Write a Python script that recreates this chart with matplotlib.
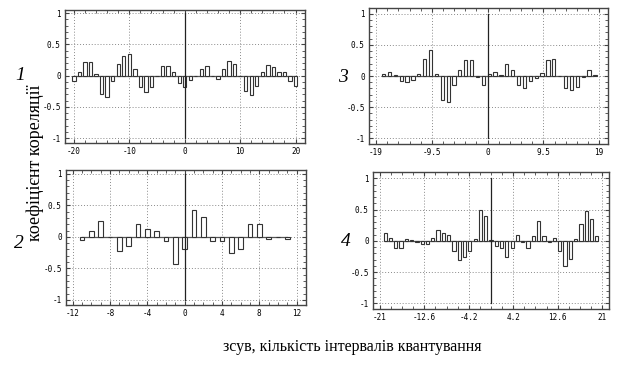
import matplotlib
matplotlib.use('Agg')
import matplotlib.pyplot as plt
import numpy as np
from matplotlib.ticker import AutoMinorLocator, FixedLocator

plt.rcParams['axes.unicode_minus'] = False

# lags and correlation coefficients for each panel
lags1 = list(range(-20, 21))
corr1 = [-0.08, 0.05, 0.22, 0.22, 0.02, -0.29, -0.35, -0.09, 0.18, 0.32,
         0.35, 0.10, -0.19, -0.27, -0.19, -0.01, 0.16, 0.16, 0.05, -0.12,
         -0.19, -0.07, 0.0, 0.10, 0.15, 0.0, -0.06, 0.11, 0.24, 0.19,
         0.0, -0.24, -0.31, -0.17, 0.05, 0.17, 0.13, 0.05, 0.05, -0.08, -0.16]
ticks1 = [-20, -10, 0, 10, 20]
labels1 = ['-20', '-10', '0', '10', '20']

lags2 = list(range(-11, 12))
corr2 = [-0.05, 0.10, 0.25, 0.005, -0.23, -0.14, 0.21, 0.12, 0.09, -0.07,
         -0.43, -0.20, 0.42, 0.31, -0.07, -0.07, -0.25, -0.20, 0.21, 0.21,
         -0.04, 0.0, -0.04]
ticks2 = [-12, -8, -4, 0, 4, 8, 12]
labels2 = ['-12', '-8', '-4', '0', '4', '8', '12']

lags3 = list(range(-18, 19))
corr3 = [0.035, 0.07, 0.02, -0.08, -0.09, -0.06, 0.04, 0.28, 0.41, 0.03,
         -0.39, -0.42, -0.15, 0.09, 0.25, 0.25, -0.01, -0.15, 0.04, 0.07,
         0.02, 0.19, 0.10, -0.15, -0.20, -0.08, -0.03, 0.05, 0.25, 0.27,
         0.0, -0.20, -0.22, -0.17, -0.01, 0.09, 0.02]
ticks3 = [-19, -9.5, 0, 9.5, 19]
labels3 = ['-19', '-9.5', '0', '9.5', '19']

lags4 = list(range(-20, 21))
corr4 = [0.13, 0.04, -0.11, -0.12, 0.03, 0.02, -0.02, -0.05, -0.05, 0.04,
         0.17, 0.13, 0.10, -0.16, -0.31, -0.26, -0.17, 0.03, 0.50, 0.40,
         0.02, -0.09, -0.12, -0.26, -0.12, 0.10, -0.02, -0.11, 0.07, 0.31,
         0.07, -0.02, 0.05, -0.17, -0.41, -0.29, 0.03, 0.27, 0.47, 0.35, 0.07]
ticks4 = [-21, -12.6, -4.2, 4.2, 12.6, 21]
labels4 = ['-21', '-12.6', '-4.2', '4.2', '12.6', '21']

yticks = [-1, -0.5, 0, 0.5, 1]
ylabels = ['-1', '-0.5', '0', '0.5', '1']

W, H = 631, 368
fig = plt.figure(figsize=(W / 100, H / 100), dpi=100)


def px_axes(left, right, top, bottom):
    return fig.add_axes([left / W, 1 - bottom / H, (right - left) / W, (bottom - top) / H])


panels = [
    # lags, corr, ticks, labels, box(px), xlim, ylim, width, align, nminor, name, name pos
    (lags1, corr1, ticks1, labels1, (65, 305, 10, 143), (-21.6, 21.7), (-1.08, 1.05), 0.6, 'center', 5, '1', (20, 75)),
    (lags2, corr2, ticks2, labels2, (66, 306, 170, 305), (-12.7, 13.0), (-1.08, 1.06), 0.5, 'center', 4, '2', (19, 243)),
    (lags3, corr3, ticks3, labels3, (369, 608, 8, 144), (-20.2, 20.5), (-1.09, 1.09), 0.55, 'edge', 5, '3', (343, 78)),
    (lags4, corr4, ticks4, labels4, (373, 609, 172, 309), (-22.3, 22.3), (-1.09, 1.1), 0.6, 'center', 4, '4', (346, 242)),
]

for lags, corr, ticks, labels, box, xlim, ylim, width, align, nminor, name, npos in panels:
    ax = px_axes(*box)
    ax.set_xlim(*xlim)
    ax.set_ylim(*ylim)
    ax.grid(True, linestyle=(0, (1, 2)), color='#8a8a8a', linewidth=0.7)
    ax.set_axisbelow(True)
    ax.plot([min(lags), max(lags)], [0, 0], color='#555555', linewidth=0.9, zorder=2)
    ax.bar(lags, corr, width=width, align=align, facecolor='white',
           edgecolor='#333333', linewidth=0.8, zorder=3)
    ax.plot([0, 0], [-1, 1], color='#222222', linewidth=0.9, zorder=4)

    ax.xaxis.set_major_locator(FixedLocator(ticks))
    ax.set_xticklabels(labels)
    ax.set_yticks(yticks)
    ax.set_yticklabels(ylabels)
    ax.xaxis.set_minor_locator(AutoMinorLocator(nminor))
    ax.yaxis.set_minor_locator(AutoMinorLocator(5))
    ax.tick_params(which='both', direction='in', top=True, right=True,
                   color='#444444', labelsize=5.5, pad=3)
    ax.tick_params(which='major', length=3)
    ax.tick_params(which='minor', length=2)
    for lab in ax.get_xticklabels() + ax.get_yticklabels():
        lab.set_fontfamily('DejaVu Sans Mono')
    for s in ax.spines.values():
        s.set_color('#444444')
        s.set_linewidth(1.0)

    fig.text(npos[0] / W, 1 - npos[1] / H, name, fontsize=14, style='italic',
             family='Liberation Serif', ha='center', va='center')

fig.text(35 / W, 1 - 163 / H, 'коефіцієнт кореляції', rotation=90,
         family='Liberation Serif', fontsize=13, ha='center', va='center')
fig.text(352 / W, 1 - 347 / H, 'зсув, кількість інтервалів квантування',
         family='Liberation Serif', fontsize=11.5, ha='center', va='center')

fig.savefig('out.png', dpi=100)
